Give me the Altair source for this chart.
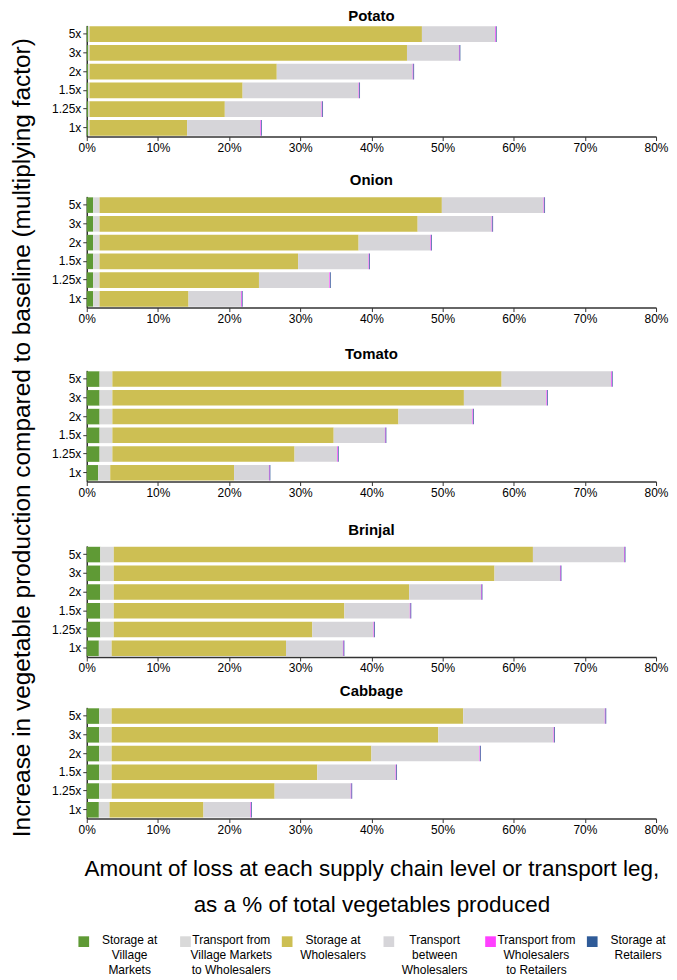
import altair as alt
import pandas as pd

vegetables = ["Potato", "Onion", "Tomato", "Brinjal", "Cabbage"]
factors = ["5x", "3x", "2x", "1.5x", "1.25x", "1x"]
stages = [
    "Storage at Village Markets",
    "Transport from Village Markets to Wholesalers",
    "Storage at Wholesalers",
    "Transport between Wholesalers",
    "Transport from Wholesalers to Retailers",
    "Storage at Retailers",
]
legend_labels = [
    "Storage at\nVillage\nMarkets",
    "Transport from\nVillage Markets\nto Wholesalers",
    "Storage at\nWholesalers",
    "Transport\nbetween\nWholesalers",
    "Transport from\nWholesalers\nto Retailers",
    "Storage at\nRetailers",
]
colors = ["#5f9a35", "#d9d9d9", "#cdbf53", "#d6d5d9", "#ff40ff", "#2f5b98"]

# values per factor (5x, 3x, 2x, 1.5x, 1.25x, 1x), % of total produced
potato_village_storage = [0.2, 0.2, 0.2, 0.2, 0.2, 0.2]
potato_village_transport = [0.2, 0.2, 0.2, 0.2, 0.2, 0.2]
potato_wholesale_storage = [46.7, 44.6, 26.3, 21.5, 19.0, 13.7]
potato_wholesale_transport = [10.3, 7.3, 19.1, 16.3, 13.6, 10.3]
potato_retail_transport = [0.1, 0.1, 0.1, 0.1, 0.1, 0.1]
potato_retail_storage = [0.1, 0.1, 0.1, 0.1, 0.1, 0.1]

onion_village_storage = [0.9, 0.9, 0.9, 0.9, 0.9, 0.9]
onion_village_transport = [0.9, 0.9, 0.9, 0.9, 0.9, 0.9]
onion_wholesale_storage = [48.1, 44.7, 36.4, 27.9, 22.4, 12.5]
onion_wholesale_transport = [14.3, 10.4, 10.1, 9.9, 9.9, 7.4]
onion_retail_transport = [0.1, 0.1, 0.1, 0.1, 0.1, 0.1]
onion_retail_storage = [0.1, 0.1, 0.1, 0.1, 0.1, 0.1]

tomato_village_storage = [1.8, 1.8, 1.8, 1.8, 1.8, 1.6]
tomato_village_transport = [1.8, 1.8, 1.8, 1.8, 1.8, 1.7]
tomato_wholesale_storage = [54.7, 49.4, 40.2, 31.1, 25.6, 17.4]
tomato_wholesale_transport = [15.4, 11.6, 10.4, 7.2, 6.0, 4.9]
tomato_retail_transport = [0.1, 0.1, 0.1, 0.1, 0.1, 0.1]
tomato_retail_storage = [0.1, 0.1, 0.1, 0.1, 0.1, 0.1]

brinjal_village_storage = [1.9, 1.9, 1.9, 1.9, 1.9, 1.7]
brinjal_village_transport = [1.9, 1.9, 1.9, 1.9, 1.9, 1.8]
brinjal_wholesale_storage = [58.9, 53.5, 41.5, 32.4, 27.9, 24.5]
brinjal_wholesale_transport = [12.8, 9.2, 10.1, 9.2, 8.6, 8.0]
brinjal_retail_transport = [0.1, 0.1, 0.1, 0.1, 0.1, 0.1]
brinjal_retail_storage = [0.1, 0.1, 0.1, 0.1, 0.1, 0.1]

cabbage_village_storage = [1.75, 1.75, 1.75, 1.75, 1.75, 1.7]
cabbage_village_transport = [1.75, 1.75, 1.75, 1.75, 1.75, 1.5]
cabbage_wholesale_storage = [49.4, 45.9, 36.5, 28.9, 22.9, 13.2]
cabbage_wholesale_transport = [19.9, 16.2, 15.2, 11.0, 10.7, 6.6]
cabbage_retail_transport = [0.1, 0.1, 0.1, 0.1, 0.1, 0.1]
cabbage_retail_storage = [0.1, 0.1, 0.1, 0.1, 0.1, 0.1]

series = {
    "Potato": [potato_village_storage, potato_village_transport, potato_wholesale_storage,
               potato_wholesale_transport, potato_retail_transport, potato_retail_storage],
    "Onion": [onion_village_storage, onion_village_transport, onion_wholesale_storage,
              onion_wholesale_transport, onion_retail_transport, onion_retail_storage],
    "Tomato": [tomato_village_storage, tomato_village_transport, tomato_wholesale_storage,
               tomato_wholesale_transport, tomato_retail_transport, tomato_retail_storage],
    "Brinjal": [brinjal_village_storage, brinjal_village_transport, brinjal_wholesale_storage,
                brinjal_wholesale_transport, brinjal_retail_transport, brinjal_retail_storage],
    "Cabbage": [cabbage_village_storage, cabbage_village_transport, cabbage_wholesale_storage,
                cabbage_wholesale_transport, cabbage_retail_transport, cabbage_retail_storage],
}

rows = []
for veg in vegetables:
    for si, (stage, vals) in enumerate(zip(stages, series[veg])):
        for f, v in zip(factors, vals):
            rows.append({"veg": veg, "factor": f, "stage": stage, "idx": si, "value": v})
df = pd.DataFrame(rows)

FONT = "Liberation Sans"
color_scale = alt.Scale(domain=stages, range=colors)


def panel(veg, last, title_offset):
    xaxis = alt.Axis(
        values=[0, 10, 20, 30, 40, 50, 60, 70, 80],
        labelExpr="datum.value + '%'",
        grid=False,
        domainColor="#333333",
        domainWidth=1.5,
        tickColor="#333333",
        tickSize=4,
        labelFontSize=12,
        labelColor="#000000",
        labelPadding=2,
        labelFlush=False,
        title=["Amount of loss at each supply chain level or transport leg,",
               "as a % of total vegetables produced"] if last else None,
        titleFontSize=22.5,
        titleFontWeight="normal",
        titleColor="#000000",
        titlePadding=22,
        titleLineHeight=36,
    )
    yaxis = alt.Axis(
        title=None,
        domainColor="#333333",
        domainWidth=1.5,
        tickColor="#333333",
        tickSize=4,
        labelFontSize=12,
        labelColor="#000000",
        labelPadding=2,
    )
    return (
        alt.Chart(df)
        .transform_filter(alt.datum.veg == veg)
        .mark_bar()
        .encode(
            x=alt.X("value:Q", stack="zero",
                    scale=alt.Scale(domain=[0, 80], nice=False), axis=xaxis),
            y=alt.Y("factor:N", sort=factors, axis=yaxis,
                    scale=alt.Scale(paddingInner=0.17, paddingOuter=0.05)),
            color=alt.Color("stage:N", scale=color_scale, legend=None),
            order=alt.Order("idx:Q"),
        )
        .properties(
            width=571,
            height=111.5,
            title=alt.TitleParams(veg, fontSize=15, fontWeight="bold",
                                  anchor="middle", offset=title_offset,
                                  color="#000000"),
        )
    )


p_potato = panel("Potato", False, 1)
p_onion = panel("Onion", False, 8)
p_tomato = panel("Tomato", False, 8)
p_brinjal = panel("Brinjal", False, 8)
p_cabbage = panel("Cabbage", True, 8)

g1 = alt.vconcat(p_potato, p_onion, spacing=19.5)
g2 = alt.vconcat(g1, p_tomato, spacing=23)
g3 = alt.vconcat(g2, p_brinjal, spacing=24)
panels = alt.vconcat(
    g3, p_cabbage,
    spacing=10,
    title=alt.TitleParams(
        "Increase in vegetable production compared to baseline (multiplying factor)",
        orient="left", anchor="middle", fontSize=24.5, fontWeight="normal",
        color="#000000", offset=16, dx=25,
    ),
)

legend_df = pd.DataFrame({"stage": stages, "label": legend_labels})
leg_base = alt.Chart(legend_df).encode(
    x=alt.X("stage:N", sort=stages, axis=None,
            scale=alt.Scale(range=[-8, 604], paddingInner=0, paddingOuter=0))
)
leg_squares = leg_base.mark_square(size=115, opacity=1, xOffset=-46).encode(
    color=alt.Color("stage:N", scale=color_scale, legend=None),
    y=alt.value(7),
)
leg_text = leg_base.mark_text(
    fontSize=12, lineBreak="\n", baseline="top", align="center", lineHeight=15,
    color="#000000",
).encode(text="label:N", y=alt.value(0))
legend = (leg_squares + leg_text).properties(width=571, height=46)

chart = (
    alt.vconcat(panels, legend, spacing=18)
    .properties(padding={"top": 0, "left": 2, "right": 0, "bottom": 0})
    .configure(font=FONT)
    .configure_view(stroke=None)
)

chart.save("out.html", embed_options={"renderer": "svg", "actions": False})
